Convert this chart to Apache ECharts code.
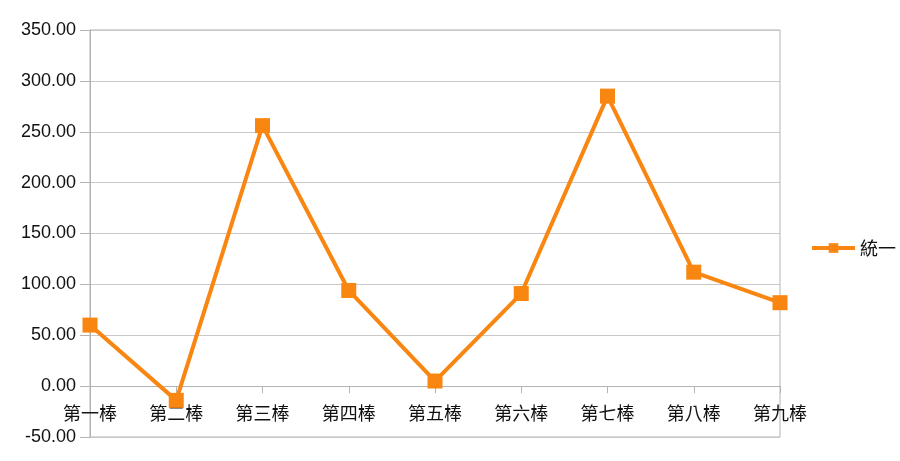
<!DOCTYPE html>
<html><head><meta charset="utf-8">
<script src="https://cdn.jsdelivr.net/npm/echarts@6/dist/echarts.min.js"></script>
<style>html,body{margin:0;padding:0;background:#fff}#c{width:900px;height:461px}</style>
</head><body><div id="c"></div>
<script>
const categories = ['第一棒','第二棒','第三棒','第四棒','第五棒','第六棒','第七棒','第八棒','第九棒'];
const seriesName = '統一';
const values = [60, -14, 256, 94, 5, 91, 285, 112, 82];
const yMin = -50, yMax = 350, yStep = 50;

const color = '#f98611';
const font = '"Liberation Sans", "Noto Sans CJK TC", sans-serif';
const chart = echarts.init(document.getElementById('c'));
chart.setOption({
  animation: false,
  backgroundColor: '#fff',
  grid: { left: 90, right: 120, top: 30, bottom: 24, outerBoundsMode: 'none', containLabel: false,
          show: true, borderColor: '#b3b3b3', borderWidth: 1 },
  legend: {
    orient: 'vertical', left: 810, top: 239, padding: 0,
    itemWidth: 43, itemHeight: 12, itemGap: 10,
    lineStyle: { width: 4 },
    textStyle: { fontFamily: '"Noto Sans CJK TC", sans-serif', fontSize: 18, color: '#111' },
    data: [seriesName]
  },
  xAxis: {
    type: 'category', data: categories, boundaryGap: false,
    axisLine: { onZero: true, lineStyle: { color: '#b3b3b3' } },
    axisTick: { show: true, alignWithLabel: true, length: 7, lineStyle: { color: '#b3b3b3' } },
    axisLabel: { fontFamily: '"Noto Sans CJK TC", sans-serif', fontSize: 18, color: '#111', margin: -33, interval: 0 },
    splitLine: { show: false }
  },
  yAxis: {
    type: 'value', min: yMin, max: yMax, interval: yStep,
    axisLine: { show: true, lineStyle: { color: '#b3b3b3' } },
    axisTick: { show: true, length: 10, lineStyle: { color: '#b3b3b3' } },
    axisLabel: { fontFamily: font, fontSize: 18, color: '#111', margin: 14, formatter: v => v.toFixed(2) },
    splitLine: { show: true, lineStyle: { color: '#c8c8c8', width: 1 } }
  },
  series: [{
    name: seriesName, type: 'line', data: values, z: 3,
    symbol: 'rect', symbolSize: 15,
    lineStyle: { color: color, width: 4 },
    itemStyle: { color: color },
    emphasis: { disabled: true }
  }]
});
</script></body></html>
